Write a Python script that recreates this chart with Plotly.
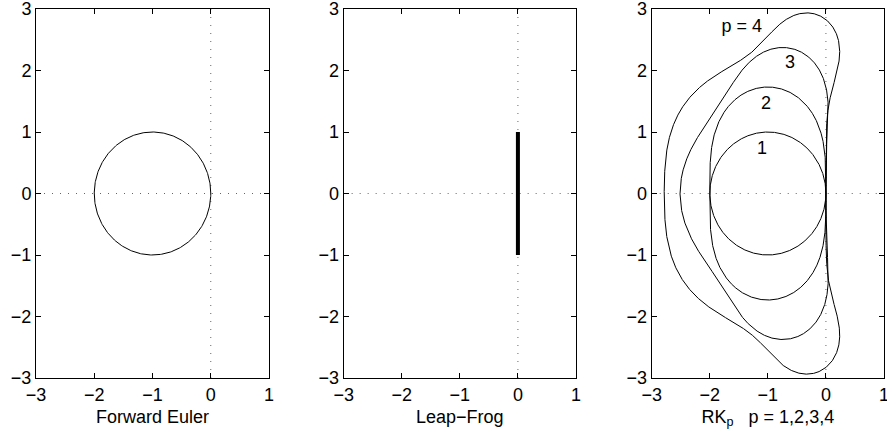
import numpy as np
import plotly.graph_objects as go
from math import factorial

# ---- data ----
axis_range = [-3, 1]
y_range = [-3, 3]
x_ticks = [-3, -2, -1, 0, 1]
y_ticks = [-3, -2, -1, 0, 1, 2, 3]
panel_titles = ["Forward Euler", "Leap\u2212Frog",
                "RK<sub><span style='color:black'>p</span></sub>   p = 1,2,3,4"]

# Forward Euler: |1+z| = 1  (circle centre -1, radius 1)
euler_center = -1.0
euler_radius = 1.0

# Leap-frog: segment of imaginary axis [-i, i]
leapfrog_x = [0, 0]
leapfrog_y = [-1, 1]

# Runge-Kutta orders and label positions
rk_orders = [1, 2, 3, 4]
rk_label_text = ["1", "2", "3", "p = 4"]
rk_label_x = [-1.1, -1.03, -0.62, -1.45]
rk_label_y = [0.72, 1.45, 2.12, 2.7]

FONT = "Liberation Sans, Arial, Helvetica, sans-serif"

def rk_boundary(p, n_per_turn=1500):
    # boundary of |R(z)| = 1, R(z) = sum z^k/k!; curve wraps p times in theta
    theta = np.linspace(0, 2 * np.pi * p, n_per_turn * p)
    coeffs = [1.0 / factorial(k) for k in range(p, -1, -1)]  # highest first
    z = 0 + 0j
    pts = [z]
    for t in theta[1:]:
        c = np.array(coeffs, dtype=complex)
        c[-1] -= np.exp(1j * t)
        r = np.roots(c)
        z = r[np.argmin(np.abs(r - z))]
        pts.append(z)
    pts = np.array(pts)
    return pts.real, pts.imag

fig = go.Figure()

doms = [[0.0, 0.2748], [0.3628, 0.6368], [0.7261, 1.0]]

for i in range(3):
    xa = "x" if i == 0 else f"x{i+1}"
    ya = "y" if i == 0 else f"y{i+1}"
    # dotted axes
    fig.add_trace(go.Scatter(x=axis_range, y=[0, 0], mode="lines", xaxis=xa, yaxis=ya,
                             line=dict(color="#666666", width=1, dash="1px,7px"),
                             showlegend=False, hoverinfo="skip"))
    fig.add_trace(go.Scatter(x=[0, 0], y=y_range, mode="lines", xaxis=xa, yaxis=ya,
                             line=dict(color="#666666", width=1, dash="1px,7px"),
                             showlegend=False, hoverinfo="skip"))

# Forward Euler circle
th = np.linspace(0, 2 * np.pi, 400)
fig.add_trace(go.Scatter(x=euler_center + euler_radius * np.cos(th),
                         y=euler_radius * np.sin(th), mode="lines",
                         line=dict(color="black", width=1), xaxis="x", yaxis="y",
                         showlegend=False))

# Leap-frog
fig.add_trace(go.Scatter(x=leapfrog_x, y=leapfrog_y, mode="lines",
                         line=dict(color="black", width=4), xaxis="x2", yaxis="y2",
                         showlegend=False))

# RK
for p in rk_orders:
    bx, by = rk_boundary(p)
    fig.add_trace(go.Scatter(x=bx, y=by, mode="lines",
                             line=dict(color="black", width=1), xaxis="x3", yaxis="y3",
                             showlegend=False))

fig.add_trace(go.Scatter(x=rk_label_x, y=rk_label_y, mode="text", text=rk_label_text,
                         textfont=dict(family=FONT, size=18, color="black"),
                         xaxis="x3", yaxis="y3", showlegend=False))

axis_common = dict(showline=True, linecolor="black", linewidth=1, mirror="ticks",
                   ticks="inside", ticklen=5, tickcolor="black", showgrid=False,
                   zeroline=False, ticklabeloverflow="allow", automargin=False,
                   tickfont=dict(family=FONT, size=18, color="black"))

layout = dict(width=887, height=438, plot_bgcolor="white", paper_bgcolor="white",
              margin=dict(l=36, r=3, t=9, b=60), showlegend=False, hovermode=False,
              font=dict(family=FONT, size=18, color="black"))

for i in range(3):
    xk = "xaxis" if i == 0 else f"xaxis{i+1}"
    yk = "yaxis" if i == 0 else f"yaxis{i+1}"
    anchor_y = "y" if i == 0 else f"y{i+1}"
    anchor_x = "x" if i == 0 else f"x{i+1}"
    layout[xk] = dict(axis_common, domain=doms[i], range=axis_range, tickvals=x_ticks,
                      anchor=anchor_y, title=dict(text=panel_titles[i], standoff=6,
                                                  font=dict(family=FONT, size=18, color="black")))
    layout[yk] = dict(axis_common, domain=[0, 1], range=y_range, tickvals=y_ticks,
                      anchor=anchor_x)

fig.update_layout(**layout)
fig.write_html("out.html", config={"displayModeBar": False},
               post_script="document.body.style.margin='0';document.body.style.overflow='hidden';")
